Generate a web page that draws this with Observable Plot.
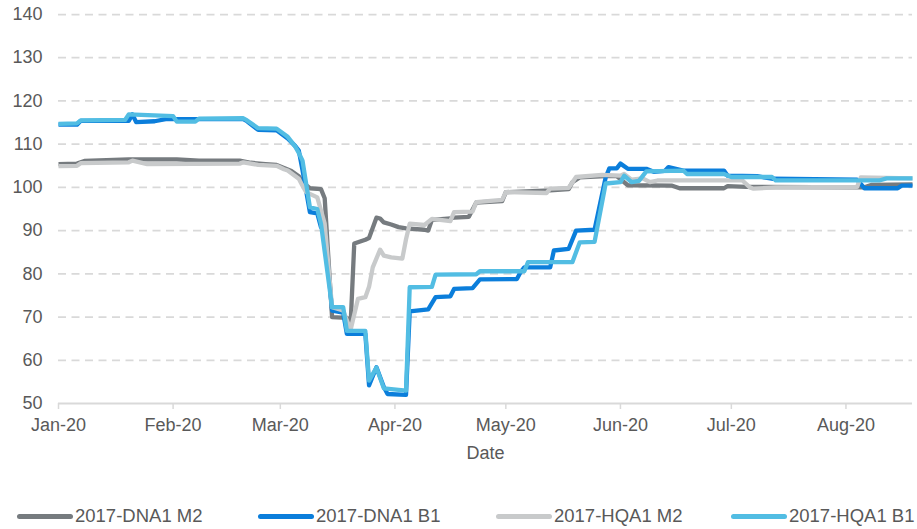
<!DOCTYPE html>
<html>
<head>
<meta charset="utf-8">
<script src="https://cdn.jsdelivr.net/npm/d3@7"></script>
<script src="https://cdn.jsdelivr.net/npm/@observablehq/plot@0.6"></script>
<style>
  html, body { margin: 0; padding: 0; background: #fff; }
  #wrap { position: relative; width: 917px; height: 529px; font-family: "Liberation Sans", Arial, sans-serif; overflow: hidden; }
  #legend { position: absolute; left: 0; top: 504px; width: 917px; height: 24px; }
  .item { position: absolute; top: 0; height: 24px; display: flex; align-items: center; }
  .swatch { width: 56px; height: 5px; border-radius: 3px; margin-right: 2px; }
  .lab { font-size: 18.5px; color: #595959; white-space: nowrap; }
</style>
</head>
<body>
<div id="wrap"><div id="chart"></div><div id="legend"></div></div>
<script>
// ---- data ----
const seriesNames = ["2017-DNA1 M2", "2017-DNA1 B1", "2017-HQA1 M2", "2017-HQA1 B1"];
const yTickValues = [50, 60, 70, 80, 90, 100, 110, 120, 130, 140];
const monthTicks = ["2020-01-01","2020-02-01","2020-03-01","2020-04-01","2020-05-01","2020-06-01","2020-07-01","2020-08-01"];
const xDomain = ["2020-01-01", "2020-08-19"];

const dnaM2 = [
  ["2020-01-01",105.4],["2020-01-06",105.5],["2020-01-08",106.1],["2020-01-20",106.5],["2020-02-02",106.5],
  ["2020-02-08",106.2],["2020-02-19",106.2],["2020-02-22",105.7],["2020-02-26",105.4],["2020-02-29",105.2],
  ["2020-03-02",104.5],["2020-03-04",103.8],["2020-03-06",102.6],["2020-03-07",101.2],["2020-03-09",99.8],
  ["2020-03-12",99.6],["2020-03-13",97.5],["2020-03-15",70.0],["2020-03-19",69.8],["2020-03-20",68.0],
  ["2020-03-21",87.0],["2020-03-24",87.9],["2020-03-25",88.3],["2020-03-27",93.0],["2020-03-28",92.8],
  ["2020-03-29",91.9],["2020-03-31",91.4],["2020-04-02",90.8],["2020-04-04",90.5],["2020-04-09",90.2],
  ["2020-04-10",90.0],["2020-04-11",92.5],["2020-04-16",92.8],["2020-04-17",93.0],["2020-04-21",93.2],
  ["2020-04-23",96.5],["2020-04-30",96.8],["2020-05-01",98.9],["2020-05-05",99.0],["2020-05-13",99.3],
  ["2020-05-18",99.6],["2020-05-19",101.2],["2020-05-21",102.3],["2020-05-28",102.6],["2020-05-31",102.6],
  ["2020-06-03",100.5],["2020-06-15",100.4],["2020-06-17",99.8],["2020-06-29",99.8],["2020-06-30",100.3],
  ["2020-07-05",100.1],["2020-08-06",100.0],["2020-08-08",100.6],["2020-08-19",100.7]
];
const dnaB1 = [
  ["2020-01-01",114.5],["2020-01-06",114.5],["2020-01-07",115.4],["2020-01-20",115.4],["2020-01-21",116.9],
  ["2020-01-22",115.1],["2020-01-27",115.3],["2020-01-30",115.8],["2020-02-20",115.8],["2020-02-21",115.3],
  ["2020-02-24",113.3],["2020-02-29",113.2],["2020-03-03",111.3],["2020-03-05",109.6],["2020-03-06",108.5],
  ["2020-03-07",104.0],["2020-03-09",94.3],["2020-03-11",94.0],["2020-03-12",90.8],["2020-03-13",90.5],
  ["2020-03-15",71.5],["2020-03-18",71.0],["2020-03-19",66.1],["2020-03-24",66.1],["2020-03-25",54.2],
  ["2020-03-27",58.4],["2020-03-29",53.8],["2020-03-30",52.2],["2020-04-04",52.0],["2020-04-05",71.3],
  ["2020-04-10",71.8],["2020-04-12",74.6],["2020-04-16",74.8],["2020-04-17",76.5],["2020-04-22",76.7],
  ["2020-04-24",78.7],["2020-05-04",78.8],["2020-05-05",80.4],["2020-05-06",81.5],["2020-05-13",81.5],
  ["2020-05-14",85.4],["2020-05-18",85.8],["2020-05-20",90.0],["2020-05-25",90.2],["2020-05-28",102.3],
  ["2020-05-29",104.4],["2020-05-31",104.4],["2020-06-01",105.5],["2020-06-03",104.3],["2020-06-08",104.3],
  ["2020-06-10",103.6],["2020-06-13",103.8],["2020-06-14",104.7],["2020-06-18",103.9],["2020-06-29",103.9],
  ["2020-06-30",102.7],["2020-07-08",102.6],["2020-07-12",102.0],["2020-08-04",101.8],["2020-08-06",99.8],
  ["2020-08-15",99.8],["2020-08-16",100.4],["2020-08-19",100.4]
];
const hqaM2 = [
  ["2020-01-01",104.9],["2020-01-06",105.0],["2020-01-07",105.6],["2020-01-20",105.8],["2020-01-21",106.2],
  ["2020-01-25",105.4],["2020-02-19",105.5],["2020-02-20",105.8],["2020-02-24",105.2],["2020-02-29",105.0],
  ["2020-03-02",104.2],["2020-03-03",103.9],["2020-03-06",102.0],["2020-03-07",100.4],["2020-03-08",98.9],
  ["2020-03-11",97.7],["2020-03-13",91.6],["2020-03-15",72.3],["2020-03-18",71.5],["2020-03-20",67.0],
  ["2020-03-22",74.2],["2020-03-24",74.6],["2020-03-25",77.0],["2020-03-26",81.5],["2020-03-28",85.6],
  ["2020-03-29",84.2],["2020-03-31",83.8],["2020-04-03",83.5],["2020-04-04",88.0],["2020-04-05",91.6],
  ["2020-04-09",91.3],["2020-04-11",92.7],["2020-04-16",92.2],["2020-04-17",94.3],["2020-04-22",94.4],
  ["2020-04-23",96.6],["2020-04-30",97.1],["2020-05-01",98.9],["2020-05-12",98.7],["2020-05-13",99.7],
  ["2020-05-18",99.9],["2020-05-20",102.4],["2020-05-27",102.9],["2020-06-01",102.7],["2020-06-02",103.1],
  ["2020-06-04",101.8],["2020-06-07",102.1],["2020-06-09",101.2],["2020-06-11",101.6],["2020-07-04",101.6],
  ["2020-07-06",100.0],["2020-07-07",99.7],["2020-07-13",100.0],["2020-08-04",100.1],["2020-08-05",102.3],
  ["2020-08-19",102.1]
];
const hqaB1 = [
  ["2020-01-01",114.7],["2020-01-06",114.8],["2020-01-07",115.5],["2020-01-19",115.6],["2020-01-20",116.9],
  ["2020-02-01",116.5],["2020-02-02",115.2],["2020-02-07",115.2],["2020-02-08",115.9],["2020-02-20",116.0],
  ["2020-02-21",115.5],["2020-02-24",113.7],["2020-02-29",113.6],["2020-03-03",111.7],["2020-03-05",109.5],
  ["2020-03-06",108.0],["2020-03-07",106.2],["2020-03-09",95.4],["2020-03-11",95.0],["2020-03-12",91.6],
  ["2020-03-15",72.3],["2020-03-18",72.3],["2020-03-19",66.8],["2020-03-24",66.8],["2020-03-25",55.3],
  ["2020-03-27",58.3],["2020-03-29",53.5],["2020-04-04",53.0],["2020-04-05",76.9],["2020-04-11",77.0],
  ["2020-04-12",79.8],["2020-04-23",79.9],["2020-04-24",80.6],["2020-05-06",80.6],["2020-05-07",82.7],
  ["2020-05-19",82.7],["2020-05-21",87.3],["2020-05-25",87.4],["2020-05-28",100.9],["2020-06-01",101.2],
  ["2020-06-02",102.7],["2020-06-04",101.2],["2020-06-06",101.5],["2020-06-08",103.7],["2020-06-18",103.9],
  ["2020-06-19",103.1],["2020-06-29",103.1],["2020-07-01",102.4],["2020-07-12",102.4],["2020-07-13",101.6],
  ["2020-08-10",101.6],["2020-08-12",102.1],["2020-08-19",102.1]
];

// ---- styles ----
const colors = ["#767b7f", "#0b7edb", "#c8cacb", "#52bde3"];
const seriesData = [dnaM2, dnaB1, hqaM2, hqaB1];

const parse = d3.utcParse("%Y-%m-%d");
const toRows = (arr, name) => arr.map(([d, v]) => ({series: name, date: parse(d), value: v}));

const chart = Plot.plot({
  width: 917,
  height: 470,
  marginLeft: 58,
  marginRight: 5,
  marginTop: 14,
  marginBottom: 67,
  style: {fontFamily: "'Liberation Sans', Arial, sans-serif", fontSize: "18px", color: "#595959", background: "#fff", overflow: "visible"},
  x: {type: "utc", domain: xDomain.map(parse)},
  y: {domain: [50, 140]},
  marks: [
    Plot.gridY(yTickValues.filter(t => t > 50), {stroke: "#d9d9d9", strokeOpacity: 1, strokeWidth: 1.75, strokeDasharray: "8,5.5"}),
    Plot.ruleY([50], {stroke: "#d9d9d9", strokeWidth: 2}),
    Plot.axisY(yTickValues, {tickSize: 0, tickPadding: 16, fill: "#595959", fontSize: 18, label: null}),
    Plot.axisX(monthTicks.map(parse), {tickSize: 6, tickPadding: 9, stroke: "#d9d9d9", strokeWidth: 1.5, fill: "#595959", fontSize: 18, tickFormat: d3.utcFormat("%b-%y"), label: null}),
    ...seriesData.map((arr, i) => Plot.line(toRows(arr, seriesNames[i]), {
      x: "date", y: "value", stroke: colors[i], strokeWidth: 4.3, strokeLinejoin: "round", strokeLinecap: "butt"
    })),
    Plot.text(["Date"], {text: d => d, frameAnchor: "bottom", dy: 55, fill: "#595959", fontSize: 18})
  ]
});
document.getElementById("chart").appendChild(chart);

// ---- legend ----
const legendX = [17, 258, 496, 731];
const legend = document.getElementById("legend");
seriesNames.forEach((name, i) => {
  const item = document.createElement("div");
  item.className = "item";
  item.style.left = legendX[i] + "px";
  const sw = document.createElement("div");
  sw.className = "swatch";
  sw.style.background = colors[i];
  const lab = document.createElement("span");
  lab.className = "lab";
  lab.textContent = name;
  item.appendChild(sw);
  item.appendChild(lab);
  legend.appendChild(item);
});
</script>
</body>
</html>
